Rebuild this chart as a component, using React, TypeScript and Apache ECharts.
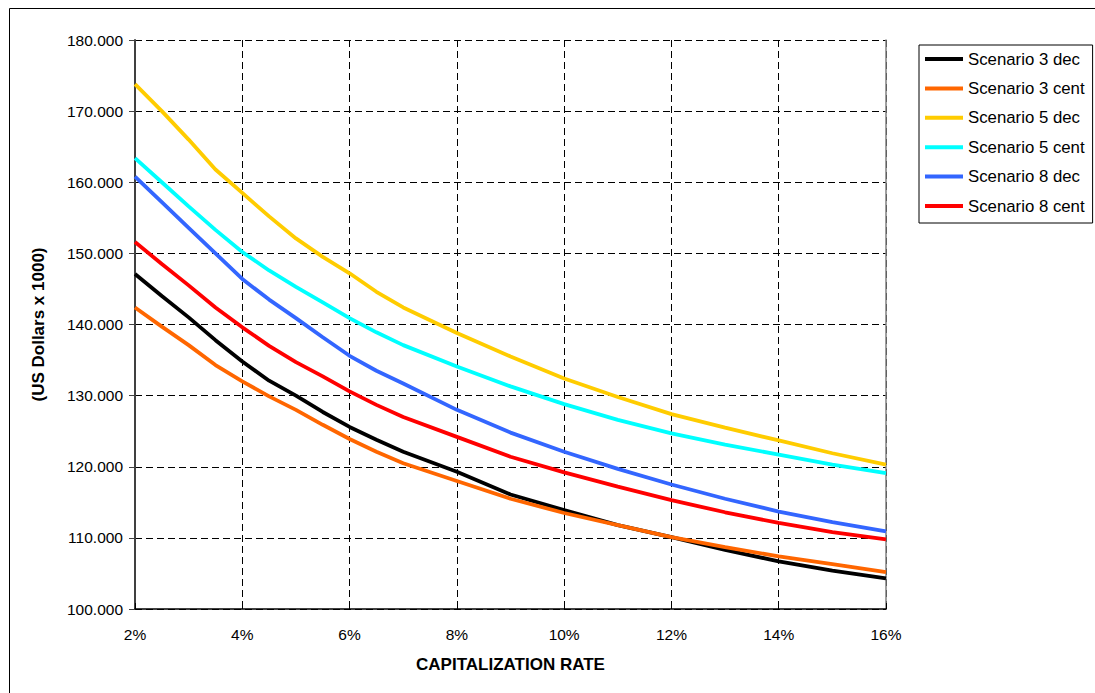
import React, { useEffect, useRef } from "react";
import * as echarts from "echarts";

const rates = [2, 2.5, 3, 3.5, 4, 4.5, 5, 5.5, 6, 6.5, 7, 8, 9, 10, 11, 12, 13, 14, 15, 16];

const scenario3Dec = [147100, 144000, 141000, 137800, 134800, 132100, 130000, 127700, 125600, 123800, 122100, 119300, 116100, 113900, 111800, 110100, 108300, 106700, 105400, 104300];
const scenario3Cent = [142400, 139700, 137100, 134300, 132000, 129900, 128000, 125900, 123900, 122100, 120500, 118000, 115500, 113500, 111800, 110100, 108700, 107400, 106300, 105200];
const scenario5Dec = [173800, 170000, 166000, 161800, 158500, 155200, 152100, 149500, 147200, 144600, 142400, 138800, 135500, 132400, 129800, 127400, 125500, 123700, 121900, 120300];
const scenario5Cent = [163400, 160000, 156600, 153300, 150200, 147600, 145300, 143100, 140900, 138900, 137100, 134100, 131300, 128800, 126600, 124700, 123100, 121700, 120300, 119100];
const scenario8Dec = [160800, 157200, 153600, 150000, 146400, 143500, 140900, 138200, 135600, 133500, 131700, 128000, 124800, 122100, 119700, 117500, 115500, 113700, 112200, 110900];
const scenario8Cent = [151600, 148500, 145500, 142400, 139600, 137000, 134700, 132700, 130600, 128700, 127000, 124200, 121400, 119200, 117200, 115300, 113600, 112100, 110800, 109800];

const seriesNames = ["Scenario 3 dec", "Scenario 3 cent", "Scenario 5 dec", "Scenario 5 cent", "Scenario 8 dec", "Scenario 8 cent"];
const seriesValues = [scenario3Dec, scenario3Cent, scenario5Dec, scenario5Cent, scenario8Dec, scenario8Cent];
const seriesColors = ["#000000", "#FF6600", "#FFCC00", "#00FFFF", "#3366FF", "#FF0000"];

const FONT = "'Liberation Sans', Arial, sans-serif";

function fmtThousands(v: number): string {
  const s = Math.round(v).toString();
  return s.replace(/\B(?=(\d{3})+(?!\d))/g, ".");
}

export default function App() {
  const ref = useRef<HTMLDivElement>(null);
  useEffect(() => {
    if (!ref.current) return;
    const chart = echarts.init(ref.current, undefined, { renderer: "svg" });
    chart.setOption({
      animation: false,
      backgroundColor: "#ffffff",
      textStyle: { fontFamily: FONT },
      graphic: [
        {
          type: "rect",
          shape: { x: 9.5, y: 8.5, width: 1300, height: 900 },
          style: { fill: "none", stroke: "#000", lineWidth: 1 },
          silent: true,
          z: 0,
        },
      ],
      grid: { left: 135, top: 40, right: 209, bottom: 84, containLabel: false },
      legend: {
        orient: "vertical",
        left: 919,
        top: 45,
        padding: [4, 8, 7, 6],
        borderColor: "#000",
        borderWidth: 1,
        backgroundColor: "#fff",
        itemWidth: 38,
        itemHeight: 4,
        itemGap: 9.4,
        icon: "rect",
        data: seriesNames,
        textStyle: { fontFamily: FONT, fontSize: 16.8, color: "#000", lineHeight: 20 },
      },
      xAxis: {
        type: "value",
        min: 2,
        max: 16,
        interval: 2,
        name: "CAPITALIZATION RATE",
        nameLocation: "middle",
        nameGap: 47,
        nameTextStyle: { fontFamily: FONT, fontSize: 17, fontWeight: "bold", color: "#000" },
        axisLine: { show: true, lineStyle: { color: "#000", width: 1.5 } },
        axisTick: { show: true, inside: true, length: 6, lineStyle: { color: "#000" } },
        axisLabel: { formatter: (v: number) => `${v}%`, fontSize: 15.5, color: "#000", margin: 17, fontFamily: FONT },
        splitLine: { show: true, lineStyle: { color: "#000", type: [7, 4], width: 1 } },
      },
      yAxis: [
        {
          type: "value",
          min: 100000,
          max: 180000,
          interval: 10000,
          name: "(US Dollars x 1000)",
          nameLocation: "middle",
          nameGap: 88,
          nameRotate: 90,
          nameTextStyle: { fontFamily: FONT, fontSize: 17, fontWeight: "bold", color: "#000" },
          axisLine: { show: true, lineStyle: { color: "#404040", width: 2 } },
          axisTick: { show: true, inside: false, length: 6, lineStyle: { color: "#404040" } },
          axisLabel: { formatter: (v: number) => fmtThousands(v / 1000) + ".000", fontSize: 15.5, color: "#000", margin: 12, fontFamily: FONT },
          splitLine: { show: true, lineStyle: { color: "#000", type: [7, 4], width: 1 } },
        },
        {
          type: "value",
          min: 100000,
          max: 180000,
          interval: 10000,
          position: "right",
          axisLine: { show: true, lineStyle: { color: "#808080", width: 1.5 } },
          axisTick: { show: false },
          axisLabel: { show: false },
          splitLine: { show: false },
        },
      ],
      series: seriesNames.map((name, i) => ({
        name,
        type: "line",
        yAxisIndex: 0,
        symbol: "none",
        color: seriesColors[i],
        lineStyle: { color: seriesColors[i], width: 3.8 },
        data: rates.map((r, j) => [r, seriesValues[i][j]]),
        z: 3,
      })),
    });
    return () => chart.dispose();
  }, []);
  return (
    <div
      ref={ref}
      style={{ position: "absolute", left: 0, top: 0, width: 1095, height: 693, overflow: "hidden" }}
    />
  );
}
